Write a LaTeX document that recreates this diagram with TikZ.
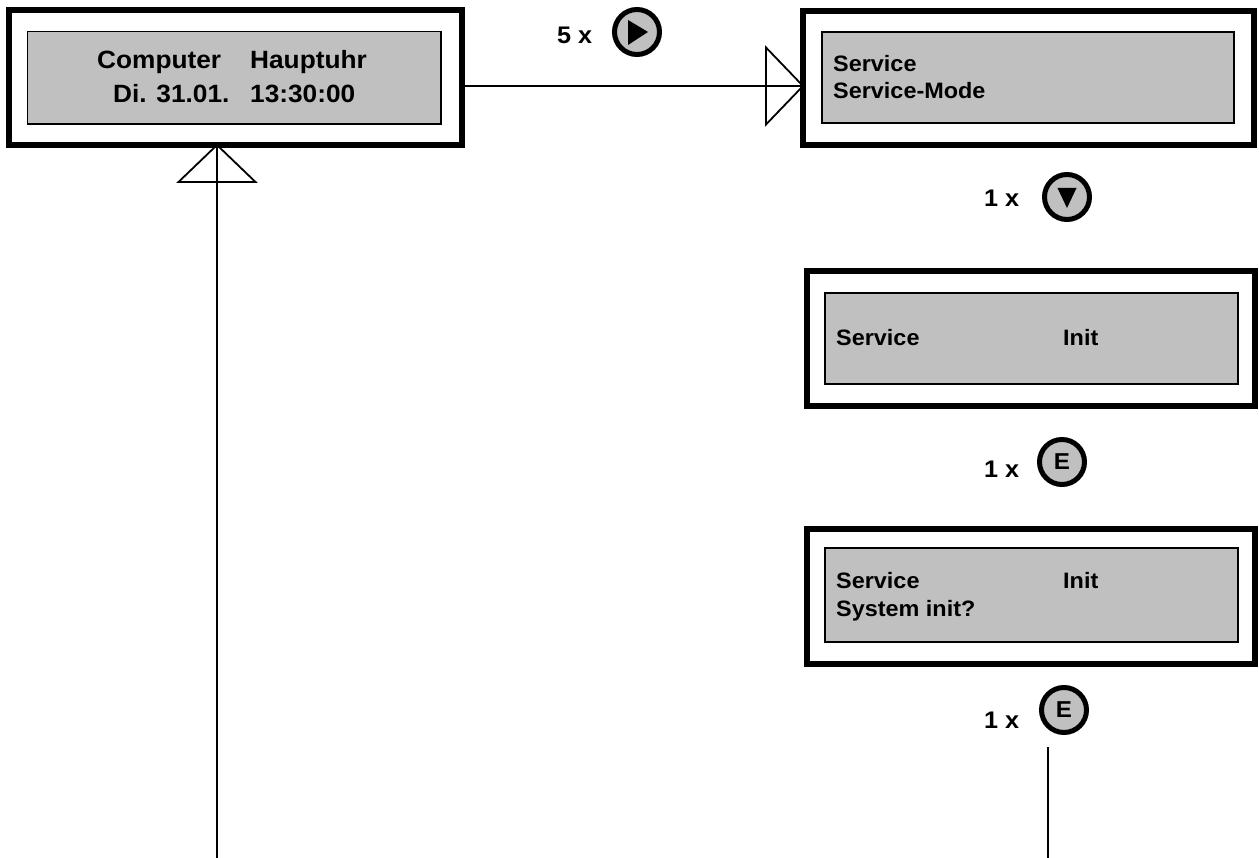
\documentclass[tikz,border=0pt]{standalone}
\usepackage{fontspec}
\setmainfont{Liberation Sans}[FakeStretch=1.05]
\definecolor{lcdgrey}{HTML}{C0C0C0}
\begin{document}
\begin{tikzpicture}[x=1pt,y=-1pt,
 outerbox/.style={draw, line width=6pt, outer sep=0pt, inner sep=0pt, fill=white},
 lcd/.style={draw, line width=1.5pt, fill=lcdgrey, outer sep=0pt, inner sep=0pt},
 txt/.style={anchor=base west, inner sep=0pt, font=\bfseries\fontsize{22.3}{24}\selectfont},
 bigtxt/.style={anchor=base west, inner sep=0pt, font=\bfseries\fontsize{25}{27}\selectfont},
 lbl/.style={anchor=base west, inner sep=0pt, font=\bfseries\fontsize{24}{26}\selectfont},
 btn/.style={circle, draw, line width=5pt, fill=lcdgrey, minimum size=45pt, inner sep=0pt, outer sep=0pt, font=\bfseries\fontsize{23}{24}\selectfont},
 conn/.style={line width=1.8pt}]
\useasboundingbox (0,0) rectangle (1259,858);

% boxes
\node[outerbox, minimum width=453pt, minimum height=134.5pt] (b1) at (235.5,77.75) {};
\node[lcd, minimum width=413.5pt, minimum height=92.5pt] (d1) at (234.25,77.75) {};
\node[outerbox, minimum width=451pt, minimum height=134pt] (b2) at (1028.5,78) {};
\node[lcd, minimum width=412pt, minimum height=91pt] (d2) at (1028,77.5) {};
\node[outerbox, minimum width=448pt, minimum height=135pt] (b3) at (1031,338.5) {};
\node[lcd, minimum width=413pt, minimum height=91pt] (d3) at (1031.5,338.5) {};
\node[outerbox, minimum width=448pt, minimum height=135pt] (b4) at (1031,596.5) {};
\node[lcd, minimum width=413pt, minimum height=94pt] (d4) at (1031.5,595) {};

% texts
\node[bigtxt] (t1a) at (97,69) {Computer};
\node[bigtxt] (t1b) at (250,69) {Hauptuhr};
\node[bigtxt] (t1c) at (113,103) {Di. 31.01.};
\node[bigtxt] (t1d) at (250,103) {13:30:00};
\node[txt] (t2a) at (833,72) {Service};
\node[txt] (t2b) at (833,99) {Service-Mode};
\node[txt] (t3a) at (836,346) {Service};
\node[txt] (t3b) at (1063,346) {Init};
\node[txt] (t4a) at (836,588) {Service};
\node[txt] (t4b) at (1063,588) {Init};
\node[txt] (t4c) at (836,616) {System init?};

% labels and buttons
\node[lbl] (l1) at (557,44) {5 x};
\node[btn] (play) at (637,32) {};
\fill (play) ++(-9,-12) -- ++(20,12) -- ++(-20,13) -- cycle;
\node[lbl] (l2) at (984,207) {1 x};
\node[btn] (down) at (1067,197) {};
\fill (down) ++(-9.5,-9) -- ++(19,0) -- ++(-9.5,20) -- cycle;
\node[lbl] (l3) at (984,478) {1 x};
\node[btn] (e1) at (1062,462) {E};
\node[lbl] (l4) at (984,728) {1 x};
\node[btn] (e2) at (1064,710) {E};

% connectors
\coordinate (hy) at (0,86);
\coordinate (a2) at (b2.west |- hy);
\draw[conn] (b1.east |- hy) -- (a2);
\draw[conn] (a2) ++(-37,-38.5) -- (a2) -- ++(-37,38.5) -- cycle;

\coordinate (L0) at (217,858);
\coordinate (a1) at (L0 |- b1.south);
\draw[conn] (L0) -- (a1);
\draw[conn] (a1) ++(-38.5,37) -- (a1) -- ++(38.5,37) -- cycle;

\coordinate (R0) at (1048,747);
\coordinate (R1) at (1048,858);
\draw[conn] (R0) -- (R1);
\end{tikzpicture}
\end{document}
